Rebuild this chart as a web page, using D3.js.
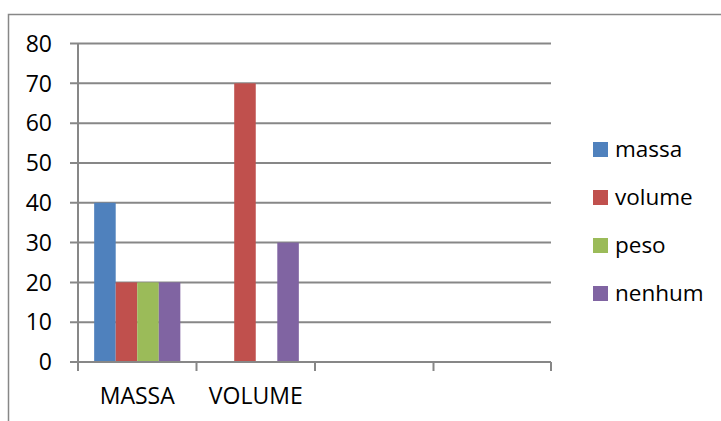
<!DOCTYPE html>
<html>
<head>
<meta charset="utf-8">
<script src="https://cdn.jsdelivr.net/npm/d3@7"></script>
<style>
  html, body { margin: 0; padding: 0; background: #fff; }
  svg { display: block; }
  text { font-family: "Open Sans", "Noto Sans", sans-serif; fill: #000; }
</style>
</head>
<body>
<svg id="chart" width="721" height="421"></svg>
<script>
// Categories along the x axis (the last two are empty slots)
const categories = ["MASSA", "VOLUME", "", ""];
// Series names
const seriesNames = ["massa", "volume", "peso", "nenhum"];
// Values per series, one per category
const massa  = [40, 0, null, null];
const volume = [20, 70, null, null];
const peso   = [20, 0, null, null];
const nenhum = [20, 30, null, null];
const seriesValues = [massa, volume, peso, nenhum];
const colors = ["#4F81BD", "#C0504D", "#9BBB59", "#8064A2"];
const yTicks = [0, 10, 20, 30, 40, 50, 60, 70, 80];

const svg = d3.select("#chart");
const gridColor = "#878787";

// Outer frame (opens toward right and bottom)
svg.append("path")
  .attr("d", "M8.5,421 L8.5,14.5 L721,14.5")
  .attr("fill", "none")
  .attr("stroke", gridColor)
  .attr("stroke-width", 1.5);

const plot = { left: 78, right: 552, top: 43.5, bottom: 362 };

const y = d3.scaleLinear().domain([0, 80]).range([plot.bottom, plot.top]);
const x = d3.scaleBand().domain(d3.range(categories.length))
  .range([plot.left, plot.right]).paddingInner(0).paddingOuter(0);
const xs = d3.scaleBand().domain(d3.range(seriesNames.length))
  .range([0, x.bandwidth()]).paddingInner(0).paddingOuter(0.75);

// Horizontal gridlines with left tick marks
svg.append("g").selectAll("line").data(yTicks).join("line")
  .attr("x1", 70).attr("x2", plot.right - 1)
  .attr("y1", d => y(d)).attr("y2", d => y(d))
  .attr("stroke", gridColor).attr("stroke-width", 2);

// Y tick labels
svg.append("g").selectAll("text").data(yTicks).join("text")
  .attr("x", 52).attr("y", d => y(d)).attr("dy", "0.36em")
  .attr("text-anchor", "end")
  .style("font-size", "23px")
  .text(d => d);

// Bars
const barData = [];
seriesValues.forEach((vals, s) => {
  vals.forEach((v, c) => {
    if (v != null && v > 0) barData.push({ s, c, v });
  });
});
svg.append("g").selectAll("rect").data(barData).join("rect")
  .attr("x", d => x(d.c) + xs(d.s))
  .attr("width", xs.bandwidth())
  .attr("y", d => y(d.v))
  .attr("height", d => y(0) - y(d.v))
  .attr("fill", d => colors[d.s]);

// Y axis line
svg.append("line")
  .attr("x1", plot.left).attr("x2", plot.left)
  .attr("y1", plot.top).attr("y2", 371)
  .attr("stroke", gridColor).attr("stroke-width", 2);

// X axis line and category boundary ticks
svg.append("line")
  .attr("x1", 70).attr("x2", plot.right - 1)
  .attr("y1", y(0)).attr("y2", y(0))
  .attr("stroke", gridColor).attr("stroke-width", 2);
const bounds = d3.range(categories.length + 1).map(i =>
  i < categories.length ? x(i) : x(categories.length - 1) + x.bandwidth());
svg.append("g").selectAll("line").data(bounds).join("line")
  .attr("x1", d => Math.min(d, plot.right - 1)).attr("x2", d => Math.min(d, plot.right - 1))
  .attr("y1", y(0)).attr("y2", 371)
  .attr("stroke", gridColor).attr("stroke-width", 2);

// Category labels
svg.append("g").selectAll("text").data(categories).join("text")
  .attr("x", (d, i) => x(i) + x.bandwidth() / 2)
  .attr("y", 404)
  .attr("text-anchor", "middle")
  .style("font-size", "23px")
  .text(d => d);

// Legend
const legend = svg.append("g").selectAll("g").data(seriesNames).join("g")
  .attr("transform", (d, i) => `translate(593, ${142 + i * 48})`);
legend.append("rect")
  .attr("width", 15).attr("height", 15)
  .attr("fill", (d, i) => colors[i]);
legend.append("text")
  .attr("x", 22).attr("y", 15)
  .style("font-size", "22.5px")
  .text(d => d);
</script>
</body>
</html>
